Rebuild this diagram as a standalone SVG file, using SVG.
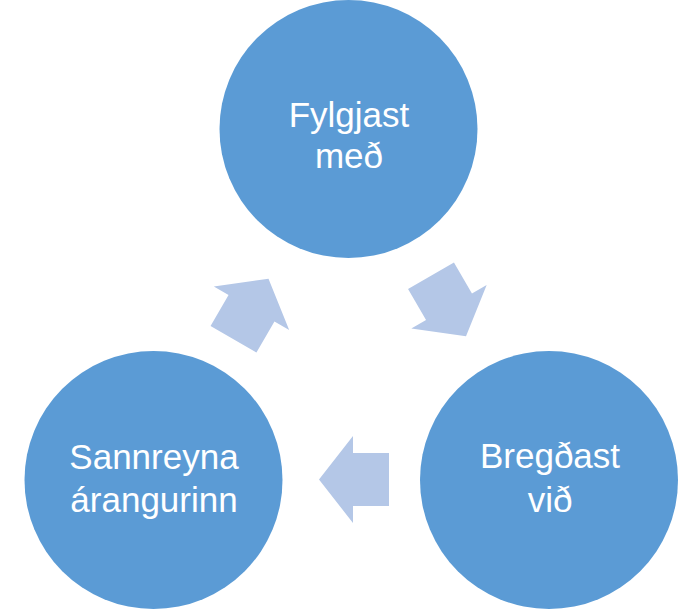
<svg xmlns="http://www.w3.org/2000/svg" width="694" height="610" viewBox="0 0 694 610">
<style>
.node{fill:#5B9BD5;}
.lbl{fill:#FFFFFF;font-family:"Liberation Sans","Open Sans",Arial,sans-serif;font-size:35px;text-anchor:middle;}
.arr{fill:#B4C7E7;}
</style>
<defs>
<path id="arrowShape" d="M-35,-26.5 L1,-26.5 L1,-43.5 L35,0 L1,43.5 L1,26.5 L-35,26.5 Z"/>
</defs>
<rect width="694" height="610" fill="#FFFFFF"/>
<g id="connectors">
<use href="#arrowShape" class="arr" transform="translate(448.5,306) rotate(60)"/>
<use href="#arrowShape" class="arr" transform="translate(354,479.5) rotate(180)"/>
<use href="#arrowShape" class="arr" transform="translate(251,309) rotate(-60)"/>
</g>
<g id="node-fylgjast">
<circle class="node" cx="348.5" cy="129" r="129"/>
<text class="lbl" x="349" y="127">Fylgjast</text>
<text class="lbl" x="349" y="168">með</text>
</g>
<g id="node-bregdast">
<circle class="node" cx="549" cy="480" r="129"/>
<text class="lbl" x="550" y="468">Bregðast</text>
<text class="lbl" x="550" y="512">við</text>
</g>
<g id="node-sannreyna">
<circle class="node" cx="153.5" cy="480" r="129"/>
<text class="lbl" x="154" y="469">Sannreyna</text>
<text class="lbl" x="154" y="512">árangurinn</text>
</g>
</svg>
